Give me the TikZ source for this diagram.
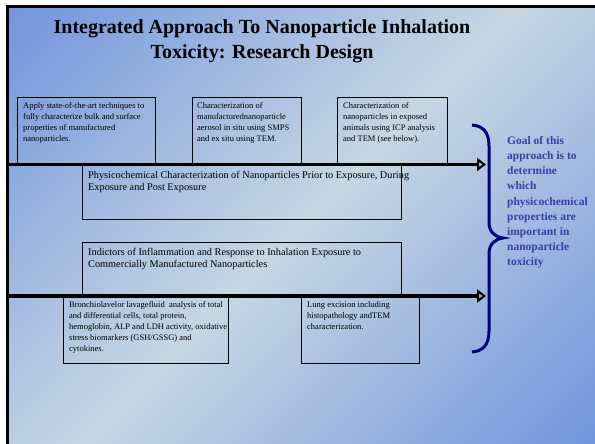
\documentclass[tikz,border=0pt]{standalone}
\usepackage{fontspec}
\setmainfont{Liberation Serif}
\usetikzlibrary{arrows.meta}
\definecolor{slideblue}{RGB}{102,140,221}
\definecolor{slidelight}{RGB}{198,215,227}
\definecolor{goalblue}{RGB}{58,62,165}
\definecolor{bracenavy}{RGB}{0,0,128}

\begin{document}
\begin{tikzpicture}[x=1pt,y=-1pt,
		box/.style={draw,line width=1.2pt,anchor=north west,inner sep=0pt},
		boxtext/.style={anchor=north west,align=left,inner sep=0pt,font=\fontsize{8.5}{11}\selectfont},
		bigtext/.style={anchor=north west,align=left,inner sep=0pt,font=\fontsize{10.3}{12.5}\selectfont},
		timeline/.style={line width=3.5pt,-{Triangle[open,length=9pt,width=13pt,line width=2pt]}}]
		\useasboundingbox (0,0) rectangle (595,444);
		\begin{scope}
			\clip (7,7) rectangle (595,444);
			\shade[top color=slideblue,bottom color=slideblue,middle color=slidelight,shading angle=45] (-109,-185) rectangle (711,635);
		\end{scope}
		\draw[line width=3pt] (7,444) -- (7,7) -- (595,7);
		\node[font=\bfseries\fontsize{20}{25}\selectfont,align=center] (title) at (262,41) {Integrated Approach To Nanoparticle Inhalation\\Toxicity: Research Design};
		\node[box,minimum width=138,minimum height=67] (surfbox) at (17,97) {};
		\node[box,minimum width=109,minimum height=67] (aerobox) at (192,97) {};
		\node[box,minimum width=110,minimum height=67] (animbox) at (337,97) {};
		\node[box,minimum width=319,minimum height=54] (physbox) at (82,165) {};
		\node[box,minimum width=319,minimum height=54] (inflbox) at (82,242) {};
		\node[box,minimum width=165,minimum height=67] (balbox) at (63,296) {};
		\node[box,minimum width=118,minimum height=67] (lungbox) at (301,296) {};
		\node[boxtext] (surftxt) at ([xshift=6pt,yshift=-5pt]surfbox.north west) {Apply state-of-the-art techniques to\\fully characterize bulk and surface\\properties of manufactured\\nanoparticles.};
		\node[boxtext] (aerotxt) at ([xshift=5pt,yshift=-5pt]aerobox.north west) {Characterization of\\manufacturednanoparticle\\aerosol in situ using SMPS\\and ex situ using TEM.};
		\node[boxtext] (animtxt) at ([xshift=6pt,yshift=-5pt]animbox.north west) {Characterization of\\nanoparticles in exposed\\animals using ICP analysis\\and TEM (see below).};
		\node[bigtext] (phystxt) at ([xshift=6pt,yshift=-6pt]physbox.north west) {Physicochemical Characterization of Nanoparticles Prior to Exposure, During\\Exposure and Post Exposure};
		\node[bigtext] (infltxt) at ([xshift=6pt,yshift=-6pt]inflbox.north west) {Indictors of Inflammation and Response to Inhalation Exposure to\\Commercially Manufactured Nanoparticles};
		\node[boxtext] (baltxt) at ([xshift=6pt,yshift=-5pt]balbox.north west) {Bronchiolavelor lavagefluid\ \ analysis of total\\and differential cells, total protein,\\hemoglobin, ALP and LDH activity, oxidative\\stress biomarkers (GSH/GSSG) and\\cytokines.};
		\node[boxtext] (lungtxt) at ([xshift=6pt,yshift=-5pt]lungbox.north west) {Lung excision including\\histopathology andTEM\\characterization.};
		\coordinate (topstart) at (7,164.5);
		\coordinate (topend) at (486,164.5);
		\coordinate (lowstart) at (7,296);
		\coordinate (lowend) at (486,296);
		\draw[timeline] (topstart) -- (topend);
		\draw[timeline] (lowstart) -- (lowend);
		\draw[bracenavy,line width=3pt] (472,125) .. controls (483,126) and (489,132) .. (489,146) -- (489,222) .. controls (489,232) and (495,237) .. (503,238) .. controls (495,239) and (489,244) .. (489,254) -- (489,331) .. controls (489,345) and (483,351) .. (472,352);
		\node[anchor=north west,align=left,inner sep=0pt,text=goalblue,font=\bfseries\fontsize{11.5}{15.2}\selectfont] (goal) at (507,136) {Goal of this\\approach is to\\determine\\which\\physicochemical\\properties are\\important in\\nanoparticle\\toxicity};
	\end{tikzpicture}
\end{document}
